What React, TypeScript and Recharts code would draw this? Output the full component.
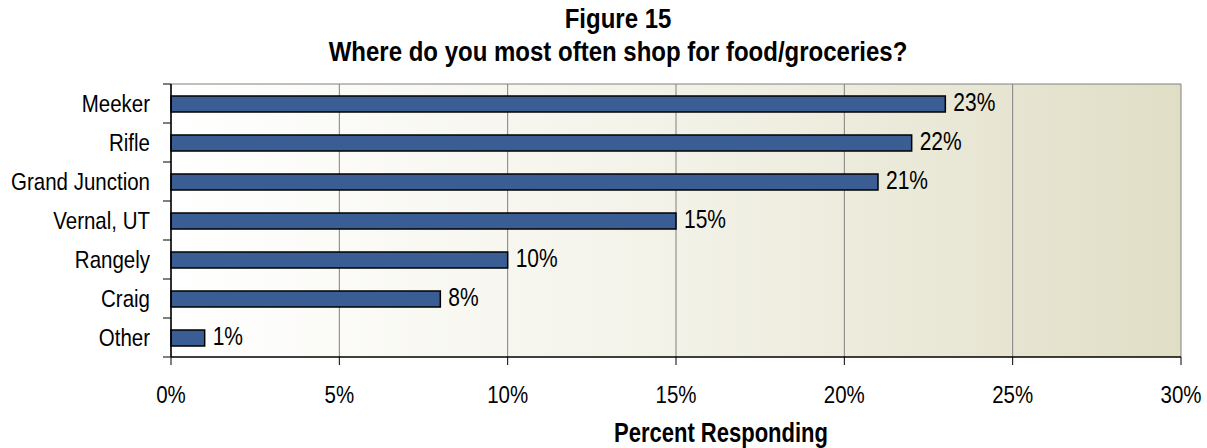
import React from 'react';
import { BarChart, Bar, XAxis, YAxis, CartesianGrid, LabelList } from 'recharts';

const categories = ['Meeker', 'Rifle', 'Grand Junction', 'Vernal, UT', 'Rangely', 'Craig', 'Other'];
const percentValues = [23, 22, 21, 15, 10, 8, 1];
const xTicks = [0, 5, 10, 15, 20, 25, 30];
const titleLines = ['Figure 15', 'Where do you most often shop for food/groceries?'];
const xAxisTitle = 'Percent Responding';

const data = categories.map((name, i) => ({ name, value: percentValues[i] }));

const W = 1207;
const H = 448;
const FONT = "'Liberation Sans', Arial, sans-serif";
const TICK_SIZE = 8;
const TICK_MARGIN = 13;
const STRETCH = 1.2;
const FS = 20.5;

const StretchText = ({ x, y, anchor, dy, size, bold, stretch, children }: any) => (
  <g transform={`translate(${x},${y}) scale(1,${stretch ?? STRETCH})`}>
    <text
      x={0}
      y={0}
      dy={dy}
      textAnchor={anchor}
      fontFamily={FONT}
      fontSize={size}
      fontWeight={bold ? 'bold' : 'normal'}
      fill="#000"
    >
      {children}
    </text>
  </g>
);

const CategoryTick = (props: any) => {
  const { x, y, payload, index, visibleTicksCount } = props;
  const axisX = x + TICK_SIZE + TICK_MARGIN;
  const half = payload && typeof payload.offset === 'number' ? payload.offset : 0;
  const isLast = index === (visibleTicksCount ?? categories.length) - 1;
  return (
    <g>
      <line x1={axisX - TICK_SIZE} x2={axisX} y1={y - half} y2={y - half} stroke="#000" strokeWidth={1} />
      {isLast && (
        <line x1={axisX - TICK_SIZE} x2={axisX} y1={y + half} y2={y + half} stroke="#000" strokeWidth={1} />
      )}
      <StretchText x={x} y={y} anchor="end" dy="0.355em" size={FS}>
        {payload.value}
      </StretchText>
    </g>
  );
};

const PercentTick = (props: any) => {
  const { x, y, payload } = props;
  return (
    <StretchText x={x} y={y} anchor="middle" dy="0.71em" size={FS}>
      {`${payload.value}%`}
    </StretchText>
  );
};

const BarValueLabel = (props: any) => {
  const { x, y, width, height, value } = props;
  return (
    <StretchText x={x + width + 8} y={y + height / 2 - 2} anchor="start" dy="0.355em" size={21}>
      {`${value}%`}
    </StretchText>
  );
};

export default function App() {
  return (
    <div style={{ position: 'absolute', left: 0, top: 0, width: W, height: H, background: '#fff' }}>
      <BarChart
        width={W}
        height={H}
        data={data}
        layout="vertical"
        margin={{ top: 84, right: 26, bottom: 0, left: 0 }}
        barCategoryGap={0}
      >
        <defs>
          <linearGradient id="plotBg" x1="0" y1="0" x2="1" y2="0">
            <stop offset="0%" stopColor="#FFFFFF" />
            <stop offset="50%" stopColor="#F3F2E8" />
            <stop offset="100%" stopColor="#E1DEC6" />
          </linearGradient>
        </defs>
        <CartesianGrid
          stroke="#808080"
          strokeWidth={1}
          fill="url(#plotBg)"
          fillOpacity={1}
          horizontalCoordinatesGenerator={(p: any) => [p.offset.top]}
        />
        <XAxis
          type="number"
          domain={[0, 30]}
          ticks={xTicks}
          interval={0}
          height={91}
          tickSize={TICK_SIZE}
          tickMargin={21}
          axisLine={{ stroke: '#000', strokeWidth: 1.5 }}
          tickLine={{ stroke: '#000' }}
          tick={<PercentTick />}
        />
        <YAxis
          type="category"
          dataKey="name"
          width={171}
          interval={0}
          tickSize={TICK_SIZE}
          tickMargin={TICK_MARGIN}
          tickLine={false}
          axisLine={{ stroke: '#000', strokeWidth: 1.5 }}
          tick={<CategoryTick />}
        />
        <Bar
          dataKey="value"
          fill="#3A5E94"
          stroke="#000"
          strokeWidth={1.5}
          barSize={16}
          isAnimationActive={false}
        >
          <LabelList dataKey="value" content={<BarValueLabel />} />
        </Bar>
      </BarChart>
      <svg
        width={W}
        height={H}
        style={{ position: 'absolute', left: 0, top: 0, pointerEvents: 'none' }}
      >
        <StretchText x={618} y={28} anchor="middle" size={24} bold stretch={1.15}>
          {titleLines[0]}
        </StretchText>
        <StretchText x={618} y={61} anchor="middle" size={24} bold stretch={1.15}>
          {titleLines[1]}
        </StretchText>
        <StretchText x={721} y={442} anchor="middle" size={22} bold stretch={1.25}>
          {xAxisTitle}
        </StretchText>
      </svg>
    </div>
  );
}
